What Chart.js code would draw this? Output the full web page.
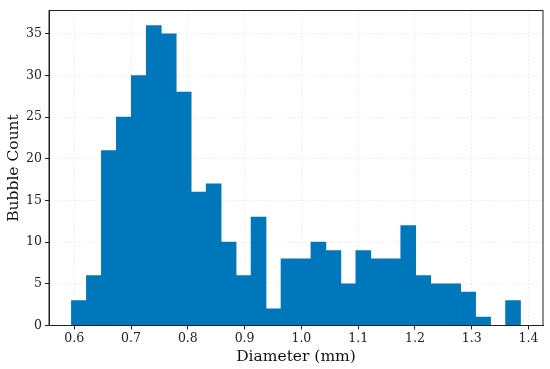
<!DOCTYPE html>
<html>
<head>
<meta charset="utf-8">
<script src="https://cdn.jsdelivr.net/npm/chart.js@4.4.0/dist/chart.umd.min.js"></script>
<style>
  html, body { margin: 0; padding: 0; background: #fff; }
  #wrap { width: 550px; height: 369px; }
</style>
</head>
<body>
<div id="wrap"><canvas id="c" width="550" height="369"></canvas></div>
<script>
// Histogram bin centers (mm) and counts
const binCenters = [0.60818, 0.63455, 0.66092, 0.68728, 0.71365, 0.74002, 0.76638, 0.79275, 0.81912, 0.84548,
                    0.87185, 0.89822, 0.92458, 0.95095, 0.97732, 1.00368, 1.03005, 1.05642, 1.08278, 1.10915,
                    1.13552, 1.16188, 1.18825, 1.21462, 1.24098, 1.26735, 1.29372, 1.32008, 1.34645, 1.37282];
const counts = [3, 6, 21, 25, 30, 36, 35, 28, 16, 17,
                10, 6, 13, 2, 8, 8, 10, 9, 5, 9,
                8, 8, 12, 6, 5, 5, 4, 1, 0, 3];
const xTicks = [0.6, 0.7, 0.8, 0.9, 1.0, 1.1, 1.2, 1.3, 1.4];
const yTicks = [0, 5, 10, 15, 20, 25, 30, 35];
const xLabel = 'Diameter (mm)';
const yLabel = 'Bubble Count';

const FONT = '"DejaVu Serif", "Liberation Serif", serif';

const framePlugin = {
  id: 'frame',
  afterDraw(chart) {
    const {ctx, chartArea: a} = chart;
    ctx.save();
    ctx.strokeStyle = '#222';
    ctx.lineWidth = 1;
    ctx.strokeRect(a.left, a.top, a.right - a.left, a.bottom - a.top);
    ctx.restore();
  }
};

new Chart(document.getElementById('c'), {
  type: 'bar',
  data: {
    datasets: [{
      data: binCenters.map((x, i) => ({x: x, y: counts[i]})),
      backgroundColor: '#0077bb',
      borderWidth: 0,
      barPercentage: 1.0,
      categoryPercentage: 1.0
    }]
  },
  options: {
    responsive: false,
    animation: false,
    layout: { padding: { top: 7.5, right: 7, left: 0, bottom: 0 } },
    plugins: { legend: { display: false }, tooltip: { enabled: false } },
    scales: {
      x: {
        type: 'linear',
        offset: false,
        min: 0.5555,
        max: 1.4256,
        afterBuildTicks: s => { s.ticks = xTicks.map(v => ({value: v})); },
        afterFit: s => { s.height = 43.5; },
        ticks: {
          callback: v => v.toFixed(1),
          font: { family: FONT, size: 12.5 },
          color: '#222',
          padding: 2,
          maxRotation: 0,
          autoSkip: false
        },
        grid: {
          offset: false,
          color: '#e6e6e6',
          lineWidth: 0.8,
          tickLength: 4,
          tickColor: '#222',
          tickWidth: 1,
          tickBorderDash: []
        },
        border: { display: true, color: '#222', width: 1, dash: [1.5, 2] },
        title: {
          display: true,
          text: xLabel,
          font: { family: FONT, size: 15.5 },
          color: '#111',
          padding: { top: 0, bottom: 3 }
        }
      },
      y: {
        min: 0,
        max: 37.8,
        afterBuildTicks: s => { s.ticks = yTicks.map(v => ({value: v})); },
        afterFit: s => { s.width = 49; },
        ticks: {
          font: { family: FONT, size: 12.5 },
          color: '#222',
          padding: 3
        },
        grid: {
          color: '#e6e6e6',
          lineWidth: 0.8,
          tickLength: 4,
          tickColor: '#222',
          tickWidth: 1,
          tickBorderDash: []
        },
        border: { display: true, color: '#222', width: 1, dash: [1.5, 2] },
        title: {
          display: true,
          text: yLabel,
          font: { family: FONT, size: 15.5 },
          color: '#111',
          padding: { top: 5, bottom: 0 }
        }
      }
    }
  },
  plugins: [framePlugin]
});
</script>
</body>
</html>
